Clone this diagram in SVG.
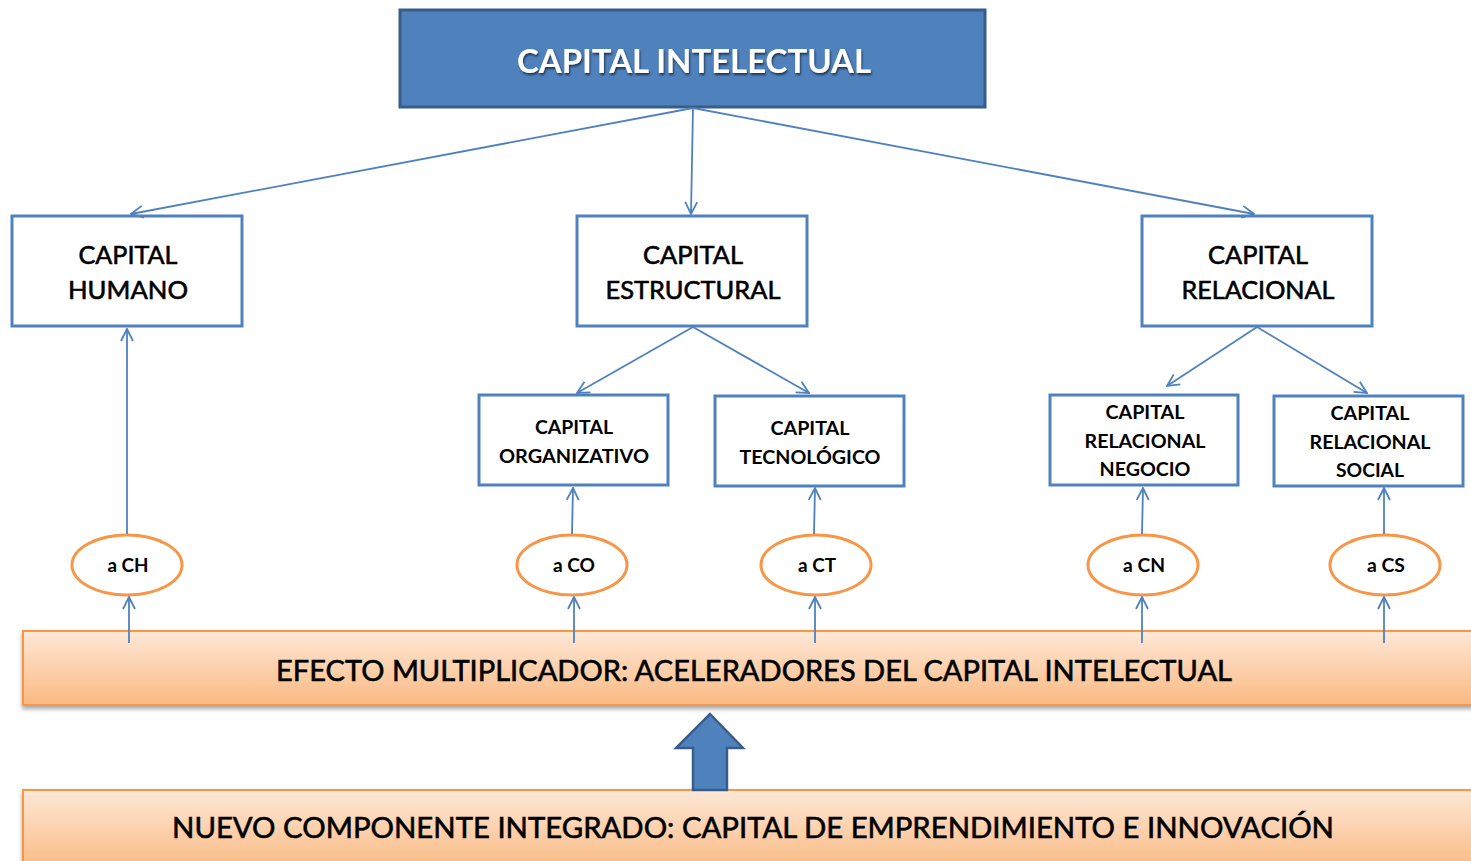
<svg xmlns="http://www.w3.org/2000/svg" width="1471" height="861" viewBox="0 0 1471 861">
<style>
.t{font-family:Lato,"Liberation Sans",sans-serif;fill:#000;text-anchor:middle}
.l2{font-size:25px;stroke:#000;stroke-width:0.6}
.l3{font-size:19px;font-weight:bold}
.el{font-size:18px;font-weight:bold}
.band{font-size:29px;stroke:#000;stroke-width:0.6}
.box2{fill:#fff;stroke:#4f81bd;stroke-width:3}
.ell{fill:#fff;stroke:#f79646;stroke-width:3}
.con{stroke:#4f81bd;stroke-width:1.8;fill:none;marker-end:url(#ah)}
</style>
<defs>
<marker id="ah" viewBox="0 0 14 14" refX="13" refY="7" markerWidth="14" markerHeight="14" markerUnits="userSpaceOnUse" orient="auto">
<path d="M1,1 L13,7 L1,13" fill="none" stroke="#4f81bd" stroke-width="1.8"/>
</marker>
<linearGradient id="og" x1="0" y1="0" x2="0" y2="1">
<stop offset="0" stop-color="#fee8d7"/>
<stop offset="1" stop-color="#fab982"/>
</linearGradient>
<filter id="sh" x="-5%" y="-20%" width="110%" height="150%">
<feDropShadow dx="0" dy="3" stdDeviation="2" flood-color="#000" flood-opacity="0.35"/>
</filter>
<filter id="tsh" x="-10%" y="-30%" width="120%" height="160%">
<feDropShadow dx="1" dy="2" stdDeviation="1.2" flood-color="#000" flood-opacity="0.6"/>
</filter>
</defs>

<g id="capital-intelectual">
<rect x="400" y="10" width="585" height="97" fill="#4f81bd" stroke="#385d8a" stroke-width="3"/>
<text x="694" y="73" font-family="Lato,'Liberation Sans',sans-serif" font-size="33" font-weight="bold" fill="#fff" text-anchor="middle" textLength="354" lengthAdjust="spacingAndGlyphs" filter="url(#tsh)">CAPITAL INTELECTUAL</text>
</g>

<g id="capital-humano">
<rect class="box2" x="12" y="216" width="230" height="110"/>
<text class="t l2" x="128" y="264" textLength="99" lengthAdjust="spacingAndGlyphs">CAPITAL</text>
<text class="t l2" x="128" y="299" textLength="120" lengthAdjust="spacingAndGlyphs">HUMANO</text>
</g>

<g id="capital-estructural">
<rect class="box2" x="577" y="216" width="230" height="110"/>
<text class="t l2" x="693" y="264" textLength="100" lengthAdjust="spacingAndGlyphs">CAPITAL</text>
<text class="t l2" x="693" y="299" textLength="175" lengthAdjust="spacingAndGlyphs">ESTRUCTURAL</text>
</g>

<g id="capital-relacional">
<rect class="box2" x="1142" y="216" width="230" height="110"/>
<text class="t l2" x="1258" y="264" textLength="100" lengthAdjust="spacingAndGlyphs">CAPITAL</text>
<text class="t l2" x="1258" y="299" textLength="153" lengthAdjust="spacingAndGlyphs">RELACIONAL</text>
</g>

<g id="capital-organizativo">
<rect class="box2" x="479" y="395" width="189" height="90"/>
<text class="t l3" x="574" y="434" textLength="78" lengthAdjust="spacingAndGlyphs">CAPITAL</text>
<text class="t l3" x="574" y="463" textLength="150" lengthAdjust="spacingAndGlyphs">ORGANIZATIVO</text>
</g>

<g id="capital-tecnologico">
<rect class="box2" x="715" y="396" width="189" height="90"/>
<text class="t l3" x="810" y="435" textLength="79" lengthAdjust="spacingAndGlyphs">CAPITAL</text>
<text class="t l3" x="810" y="464" textLength="141" lengthAdjust="spacingAndGlyphs">TECNOLÓGICO</text>
</g>

<g id="capital-relacional-negocio">
<rect class="box2" x="1050" y="395" width="188" height="90"/>
<text class="t l3" x="1145" y="419" textLength="79" lengthAdjust="spacingAndGlyphs">CAPITAL</text>
<text class="t l3" x="1145" y="448" textLength="121" lengthAdjust="spacingAndGlyphs">RELACIONAL</text>
<text class="t l3" x="1145" y="476" textLength="91" lengthAdjust="spacingAndGlyphs">NEGOCIO</text>
</g>

<g id="capital-relacional-social">
<rect class="box2" x="1274" y="396" width="189" height="90"/>
<text class="t l3" x="1370" y="420" textLength="79" lengthAdjust="spacingAndGlyphs">CAPITAL</text>
<text class="t l3" x="1370" y="449" textLength="121" lengthAdjust="spacingAndGlyphs">RELACIONAL</text>
<text class="t l3" x="1370" y="477" textLength="68" lengthAdjust="spacingAndGlyphs">SOCIAL</text>
</g>

<g id="a-ch">
<ellipse class="ell" cx="127" cy="565" rx="55" ry="30"/>
<text class="t el" x="128" y="572" textLength="41" lengthAdjust="spacingAndGlyphs">a CH</text>
</g>
<g id="a-co">
<ellipse class="ell" cx="572" cy="565" rx="55" ry="30"/>
<text class="t el" x="574" y="572" textLength="42" lengthAdjust="spacingAndGlyphs">a CO</text>
</g>
<g id="a-ct">
<ellipse class="ell" cx="816" cy="565" rx="55" ry="30"/>
<text class="t el" x="817" y="572" textLength="38" lengthAdjust="spacingAndGlyphs">a CT</text>
</g>
<g id="a-cn">
<ellipse class="ell" cx="1143" cy="565" rx="55" ry="30"/>
<text class="t el" x="1144" y="572" textLength="42" lengthAdjust="spacingAndGlyphs">a CN</text>
</g>
<g id="a-cs">
<ellipse class="ell" cx="1385" cy="565" rx="55" ry="30"/>
<text class="t el" x="1386" y="572" textLength="38" lengthAdjust="spacingAndGlyphs">a CS</text>
</g>

<g id="efecto-multiplicador">
<rect x="23" y="631" width="1460" height="74" fill="url(#og)" stroke="#f79646" stroke-width="2" filter="url(#sh)"/>
<text class="t band" x="754" y="681" textLength="956" lengthAdjust="spacingAndGlyphs">EFECTO MULTIPLICADOR: ACELERADORES DEL CAPITAL INTELECTUAL</text>
</g>

<g id="nuevo-componente">
<rect x="23" y="790" width="1460" height="80" fill="url(#og)" stroke="#f79646" stroke-width="2" filter="url(#sh)"/>
<text class="t band" x="753" y="838" textLength="1162" lengthAdjust="spacingAndGlyphs">NUEVO COMPONENTE INTEGRADO: CAPITAL DE EMPRENDIMIENTO  E INNOVACIÓN</text>
</g>

<g id="block-arrow">
<path d="M710,714 L743,748 L727,748 L727,790 L693,790 L693,748 L676,748 Z" fill="#4f81bd" stroke="#385d8a" stroke-width="2.5" stroke-linejoin="miter"/>
</g>

<g id="connectors">
<line class="con" x1="693" y1="108" x2="131" y2="214"/>
<line class="con" x1="693" y1="108" x2="691" y2="214"/>
<line class="con" x1="693" y1="108" x2="1254" y2="214"/>
<line class="con" x1="693" y1="327" x2="577" y2="393"/>
<line class="con" x1="693" y1="327" x2="809" y2="393"/>
<line class="con" x1="1257" y1="327" x2="1167" y2="386"/>
<line class="con" x1="1257" y1="327" x2="1367" y2="393"/>
<line class="con" x1="127" y1="534" x2="127" y2="329"/>
<line class="con" x1="572" y1="534" x2="573" y2="488"/>
<line class="con" x1="814" y1="534" x2="815" y2="488"/>
<line class="con" x1="1142" y1="534" x2="1143" y2="488"/>
<line class="con" x1="1384" y1="534" x2="1384" y2="488"/>
<line class="con" x1="129" y1="643" x2="129" y2="597"/>
<line class="con" x1="574" y1="643" x2="574" y2="597"/>
<line class="con" x1="815" y1="643" x2="815" y2="597"/>
<line class="con" x1="1142" y1="643" x2="1142" y2="597"/>
<line class="con" x1="1384" y1="643" x2="1384" y2="597"/>
</g>
</svg>
